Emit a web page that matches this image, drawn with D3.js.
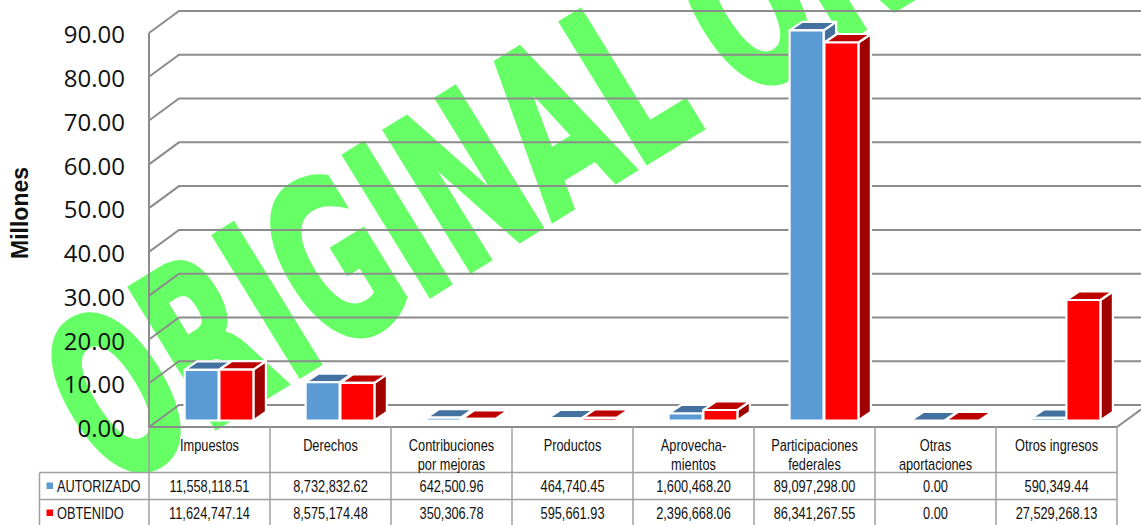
<!DOCTYPE html>
<html lang="es">
	<head>
		<meta charset="utf-8">
		<title>D3: ingresos autorizado / obtenido</title>
		<script src="https://d3js.org/d3.v7.min.js"></script>
		<style type="text/css">
			html, body { margin: 0; padding: 0; background: #fff; overflow: hidden; }
			svg { display: block; }
			.tabla text { font-family: "Liberation Sans", sans-serif; font-size: 16px; fill: #111; }
			.eje text { font-family: "Open Sans", sans-serif; font-size: 24px; fill: #111; }
		</style>
	</head>
	<body>
		<script type="text/javascript">

			var categorias = [
				["Impuestos"],
				["Derechos"],
				["Contribuciones", "por mejoras"],
				["Productos"],
				["Aprovecha-", "mientos"],
				["Participaciones", "federales"],
				["Otras", "aportaciones"],
				["Otros ingresos"]
			];
			var series = ["AUTORIZADO", "OBTENIDO"];
			var autorizado = [11558118.51, 8732832.62, 642500.96, 464740.45, 1600468.20, 89097298.00, 0, 590349.44];
			var obtenido = [11624747.14, 8575174.48, 350306.78, 595661.93, 2396668.06, 86341267.55, 0, 27529268.13];
			var marcas = [0, 10, 20, 30, 40, 50, 60, 70, 80, 90];

			var width = 1141, height = 525;

			var colores = [
				{front: "#5b9bd5", top: "#4472a0", side: "#41719c"},
				{front: "#ff0000", top: "#bd0000", side: "#a00000"}
			];

			var svg = d3.select("body")
				.append("svg")
				.attr("width", width)
				.attr("height", height);

			// marca de agua, va debajo de todo
			var agua = svg.append("g")
				.attr("transform", "translate(706,126) rotate(-31.6) scale(0.57,1)")
				.attr("font-family", "DejaVu Sans")
				.attr("font-weight", "bold")
				.attr("font-size", 225)
				.attr("fill", "#66ff66")
				.attr("stroke", "#66ff66")
				.attr("stroke-width", 5);
			agua.append("text")
				.attr("text-anchor", "end")
				.text("ORIGINAL");
			agua.append("text")
				.attr("x", 75)
				.text("ON");

			var xscale = d3.scaleBand()
				.domain(d3.range(categorias.length))
				.range([149, 1117]);

			var yscale = d3.scaleLinear()
				.domain([0, 90e6])
				.range([427, 33]);

			// caja 3d
			var dxFondo = 30, dyFondo = -22;
			var rejilla = svg.append("g").attr("fill", "none").attr("stroke", "#8c8c8c").attr("stroke-width", 2);

			rejilla.selectAll("path")
				.data(marcas)
				.enter()
				.append("path")
				.attr("d", function(d){
					var y = yscale(d * 1e6);
					return "M149," + y + "L" + (149 + dxFondo) + "," + (y + dyFondo) + "H" + width;
				});

			rejilla.append("path")
				.attr("d", "M149," + yscale(90e6) + "V" + yscale(0) + "H1117L" + (1117 + dxFondo) + "," + (yscale(0) + dyFondo));

			// barras
			var anchoBarra = 34, huecoBarra = 0.8, dxBarra = 12.5, dyBarra = -8.5, sube = 6.5, corre = 9.5;

			var grupos = svg.append("g")
				.selectAll("g")
				.data(categorias)
				.enter()
				.append("g")
				.attr("transform", function(d, i){
					return "translate(" + (xscale(i) + xscale.bandwidth() / 2 + corre) + ",0)";
				});

			[autorizado, obtenido].forEach(function(valores, s){
				var c = colores[s];
				var barras = grupos.append("g")
					.attr("stroke", "#fff")
					.attr("stroke-width", 2.2)
					.attr("stroke-linejoin", "round");

				function x0(i){ return s == 0 ? -anchoBarra - huecoBarra / 2 : huecoBarra / 2; }
				function yTop(i){ return yscale(valores[i]) - sube; }
				var yBase = yscale(0) - sube;

				barras.append("path")
					.attr("fill", c.side)
					.attr("d", function(d, i){
						var x = x0(i) + anchoBarra;
						return "M" + x + "," + yTop(i) + "l" + dxBarra + "," + dyBarra + "V" + (yBase + dyBarra) + "L" + x + "," + yBase + "Z";
					})
					.attr("display", function(d, i){ return valores[i] > 0 ? null : "none"; });

				barras.append("path")
					.attr("fill", c.top)
					.attr("d", function(d, i){
						var x = x0(i);
						return "M" + x + "," + yTop(i) + "l" + dxBarra + "," + dyBarra + "h" + anchoBarra + "l" + (-dxBarra) + "," + (-dyBarra) + "Z";
					});

				barras.append("rect")
					.attr("fill", c.front)
					.attr("x", function(d, i){ return x0(i); })
					.attr("y", function(d, i){ return yTop(i); })
					.attr("width", anchoBarra)
					.attr("height", function(d, i){ return yBase - yTop(i); })
					.attr("display", function(d, i){ return valores[i] > 0 ? null : "none"; });
			});

			// eje y
			var eje = svg.append("g")
				.attr("class", "eje")
				.attr("transform", "translate(150,2)")
				.call(d3.axisLeft(yscale)
					.tickValues(marcas.map(function(d){ return d * 1e6; }))
					.tickSize(0)
					.tickPadding(25)
					.tickFormat(function(d){ return d3.format(".2f")(d / 1e6); }));
			eje.select(".domain").remove();

			svg.append("text")
				.attr("transform", "translate(28,213) rotate(-90)")
				.attr("text-anchor", "middle")
				.attr("font-family", "Liberation Sans")
				.attr("font-weight", "bold")
				.attr("font-size", 23)
				.attr("fill", "#111")
				.text("Millones");

			// tabla de datos
			var angosto = 0.8;
			var filas = [472.5, 499.5, 526];
			var tabla = svg.append("g").attr("class", "tabla");
			var lineas = tabla.append("g").attr("stroke", "#a0a0a0").attr("stroke-width", 1.5).attr("fill", "none");

			lineas.selectAll(".v")
				.data(d3.range(categorias.length + 1))
				.enter()
				.append("line")
				.attr("x1", function(d){ return 149 + d * xscale.bandwidth(); })
				.attr("x2", function(d){ return 149 + d * xscale.bandwidth(); })
				.attr("y1", yscale(0))
				.attr("y2", height);

			lineas.selectAll(".h")
				.data(filas)
				.enter()
				.append("line")
				.attr("x1", 39.5)
				.attr("x2", 1117)
				.attr("y1", function(d){ return d; })
				.attr("y2", function(d){ return d; });

			lineas.append("line")
				.attr("x1", 39.5)
				.attr("x2", 39.5)
				.attr("y1", filas[0])
				.attr("y2", height);

			var rotulos = tabla.selectAll(".cat")
				.data(categorias)
				.enter()
				.append("text")
				.attr("text-anchor", "middle")
				.attr("transform", function(d, i){
					return "translate(" + (xscale(i) + xscale.bandwidth() / 2) + ",451) scale(" + angosto + ",1)";
				});

			rotulos.selectAll("tspan")
				.data(function(d){ return d; })
				.enter()
				.append("tspan")
				.attr("x", 0)
				.attr("y", function(d, i){ return i * 19; })
				.text(function(d){ return d; });

			[autorizado, obtenido].forEach(function(valores, s){
				var yTexto = filas[s] + 19;

				tabla.append("rect")
					.attr("x", 46.5)
					.attr("y", filas[s] + 10)
					.attr("width", 6.5)
					.attr("height", 6.5)
					.attr("fill", colores[s].front);

				tabla.append("text")
					.attr("transform", "translate(57," + yTexto + ") scale(" + angosto + ",1)")
					.text(series[s]);

				tabla.selectAll(".v" + s)
					.data(valores)
					.enter()
					.append("text")
					.attr("text-anchor", "middle")
					.attr("transform", function(d, i){
						return "translate(" + (xscale(i) + xscale.bandwidth() / 2) + "," + yTexto + ") scale(" + angosto + ",1)";
					})
					.text(function(d){ return d3.format(",.2f")(d); });
			});
		</script>
	</body>
</html>
